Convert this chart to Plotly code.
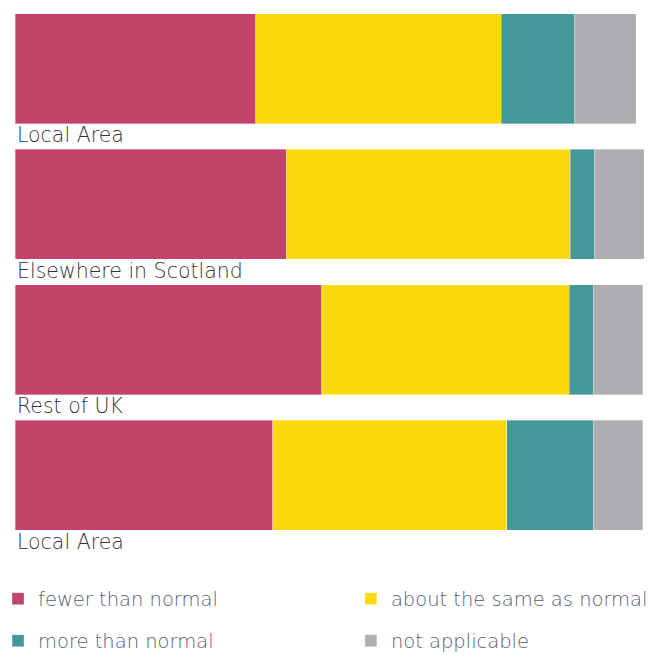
import plotly.graph_objects as go

categories = ["Local Area", "Elsewhere in Scotland", "Rest of UK", "Local Area"]
series_names = ["fewer than normal", "about the same as normal", "more than normal", "not applicable"]
fewer = [38.3, 43.1, 48.8, 41.0]
same = [39.0, 45.2, 39.3, 37.2]
more = [11.6, 3.8, 3.8, 13.7]
not_applicable = [9.9, 7.9, 7.9, 7.9]

colors = ["#C4436B", "#FDDA0F", "#45979A", "#ADAEB1"]
values = [fewer, same, more, not_applicable]
legend_ids = ["legend", "legend3", "legend2", "legend4"]

ypos = list(range(len(categories)))

fig = go.Figure()
for name, vals, col, lg in zip(series_names, values, colors, legend_ids):
    fig.add_trace(go.Bar(
        x=vals, y=ypos, orientation="h", name=name,
        width=0.813,
        marker=dict(color=col, line=dict(color="rgba(255,255,255,0.35)", width=1)),
        legend=lg, hoverinfo="x+name",
    ))

for i, lab in enumerate(categories):
    fig.add_annotation(
        x=0, xref="paper", xanchor="left", xshift=0,
        y=i + 0.49, yref="y", yanchor="middle",
        text=lab, showarrow=False,
        font=dict(family="DejaVu Sans", size=20.5, color="#333333", weight=300),
    )

legend_font = dict(family="DejaVu Sans", size=19.5, color="#56606e", weight=300)
col1_x = -0.0270
col2_x = 0.5340
row1_y = -0.1033
row2_y = -0.1808


def leg(x, y):
    return dict(orientation="h", x=x, xanchor="left", y=y, yanchor="middle",
                font=legend_font, bgcolor="rgba(0,0,0,0)")


fig.update_layout(
    width=653, height=655,
    margin=dict(l=15, r=9, t=1, b=112, autoexpand=False),
    barmode="stack",
    plot_bgcolor="white", paper_bgcolor="white",
    xaxis=dict(range=[0, 100], visible=False, fixedrange=True),
    yaxis=dict(range=[3.5, -0.5], visible=False, fixedrange=True),
    legend=leg(col1_x, row1_y),
    legend2=leg(col1_x, row2_y),
    legend3=leg(col2_x, row1_y),
    legend4=leg(col2_x, row2_y),
    showlegend=True,
)

fig.write_html("out.html")
